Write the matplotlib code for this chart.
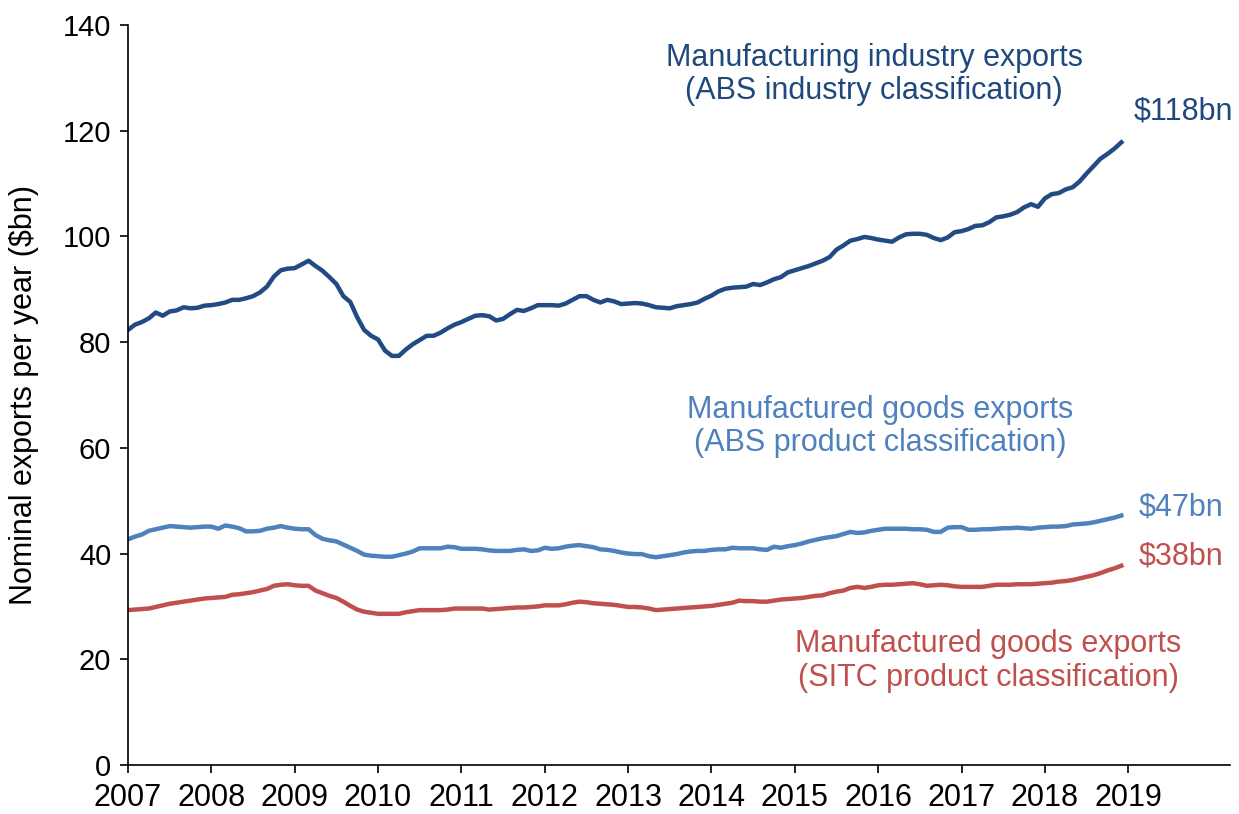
import numpy as np
import matplotlib
matplotlib.use("Agg")
import matplotlib.pyplot as plt

plt.rcParams['font.family'] = ['Liberation Sans', 'DejaVu Sans']

# monthly, Jan 2007 - Dec 2018 ($bn, nominal, annualised)
industry = [
    82.3, 83.3, 83.8, 84.5, 85.6, 85.0, 85.8, 86.0, 86.6, 86.4, 86.5, 86.9,
    87.0, 87.2, 87.5, 88.0, 88.0, 88.3, 88.7, 89.4, 90.5, 92.4, 93.6, 93.9,
    94.0, 94.7, 95.4, 94.4, 93.5, 92.3, 91.0, 88.7, 87.6, 84.7, 82.3, 81.2,
    80.5, 78.4, 77.4, 77.4, 78.6, 79.6, 80.4, 81.2, 81.2, 81.8, 82.6, 83.3,
    83.8, 84.4, 85.0, 85.1, 84.9, 84.1, 84.4, 85.3, 86.1, 85.9, 86.4, 87.0,
    87.0, 87.0, 86.9, 87.3, 88.0, 88.7, 88.7, 88.0, 87.5, 88.0, 87.7, 87.2,
    87.3, 87.4, 87.3, 87.0, 86.6, 86.5, 86.4, 86.8, 87.0, 87.2, 87.5, 88.2,
    88.8, 89.6, 90.1, 90.3, 90.4, 90.5, 91.0, 90.8, 91.3, 91.9, 92.3, 93.2,
    93.6, 94.0, 94.4, 94.9, 95.4, 96.1, 97.5, 98.3, 99.2, 99.5, 99.9, 99.7,
    99.4, 99.2, 99.0, 99.8, 100.4, 100.5, 100.5, 100.3, 99.7, 99.3, 99.8, 100.8,
    101.0, 101.4, 102.0, 102.1, 102.7, 103.6, 103.8, 104.1, 104.6, 105.5, 106.1, 105.6,
    107.2, 108.0, 108.2, 108.9, 109.3, 110.4, 111.9, 113.3, 114.7, 115.6, 116.6, 117.8,
]
abs_goods = [
    42.7, 43.2, 43.6, 44.3, 44.6, 44.9, 45.2, 45.1, 45.0, 44.9, 45.0, 45.1,
    45.1, 44.7, 45.3, 45.1, 44.8, 44.2, 44.2, 44.3, 44.7, 44.9, 45.2, 44.9,
    44.7, 44.6, 44.6, 43.5, 42.8, 42.5, 42.3, 41.7, 41.1, 40.5, 39.8, 39.6,
    39.5, 39.4, 39.4, 39.7, 40.0, 40.4, 41.0, 41.0, 41.0, 41.0, 41.3, 41.2,
    40.9, 40.9, 40.9, 40.8, 40.6, 40.5, 40.5, 40.5, 40.7, 40.8, 40.5, 40.6,
    41.1, 40.9, 41.0, 41.3, 41.5, 41.6, 41.4, 41.2, 40.8, 40.7, 40.5, 40.2,
    40.0, 39.9, 39.9, 39.5, 39.3, 39.5, 39.7, 39.9, 40.2, 40.4, 40.5, 40.5,
    40.7, 40.8, 40.8, 41.1, 41.0, 41.0, 41.0, 40.8, 40.7, 41.3, 41.1, 41.4,
    41.6, 41.9, 42.3, 42.6, 42.9, 43.1, 43.3, 43.7, 44.1, 43.9, 44.0, 44.3,
    44.5, 44.7, 44.7, 44.7, 44.7, 44.6, 44.6, 44.5, 44.1, 44.1, 44.9, 45.0,
    45.0, 44.5, 44.5, 44.6, 44.6, 44.7, 44.8, 44.8, 44.9, 44.8, 44.7, 44.9,
    45.0, 45.1, 45.1, 45.2, 45.5, 45.6, 45.7, 45.9, 46.2, 46.5, 46.8, 47.2,
]
sitc_goods = [
    29.3, 29.4, 29.5, 29.6, 29.9, 30.2, 30.5, 30.7, 30.9, 31.1, 31.3, 31.5,
    31.6, 31.7, 31.8, 32.2, 32.3, 32.5, 32.7, 33.0, 33.3, 33.9, 34.1, 34.2,
    34.0, 33.9, 33.9, 33.0, 32.5, 32.0, 31.6, 30.9, 30.1, 29.4, 29.0, 28.8,
    28.6, 28.6, 28.6, 28.6, 28.9, 29.1, 29.3, 29.3, 29.3, 29.3, 29.4, 29.6,
    29.6, 29.6, 29.6, 29.6, 29.4, 29.5, 29.6, 29.7, 29.8, 29.8, 29.9, 30.0,
    30.2, 30.2, 30.2, 30.4, 30.7, 30.9, 30.8, 30.6, 30.5, 30.4, 30.3, 30.1,
    29.9, 29.9, 29.8, 29.6, 29.3, 29.4, 29.5, 29.6, 29.7, 29.8, 29.9, 30.0,
    30.1, 30.3, 30.5, 30.7, 31.1, 31.0, 31.0, 30.9, 30.9, 31.1, 31.3, 31.4,
    31.5, 31.6, 31.8, 32.0, 32.1, 32.5, 32.8, 33.0, 33.5, 33.7, 33.5, 33.7,
    34.0, 34.1, 34.1, 34.2, 34.3, 34.4, 34.2, 33.9, 34.0, 34.1, 34.0, 33.8,
    33.7, 33.7, 33.7, 33.7, 33.9, 34.1, 34.1, 34.1, 34.2, 34.2, 34.2, 34.3,
    34.4, 34.5, 34.7, 34.8, 35.0, 35.3, 35.6, 35.9, 36.3, 36.8, 37.2, 37.7,
]
years = list(range(2007, 2020))
end_labels = ['$118bn', '$47bn', '$38bn']

dark = '#224B84'
light = '#4F81BD'
red = '#C0504D'

t = 2007 + np.arange(len(industry)) / 12

fig = plt.figure(figsize=(12.39, 8.14), dpi=100)
ax = fig.add_axes([0.1033, 0.0602, 0.8894, 0.9091])

ax.plot(t, industry, color=dark, lw=3.2)
ax.plot(t, abs_goods, color=light, lw=3.2)
ax.plot(t, sitc_goods, color=red, lw=3.2)

ax.set_xlim(2007, 2020.22)
ax.set_ylim(0, 140)
ax.set_xticks(years)
ax.set_yticks(range(0, 141, 20))
ax.tick_params(axis='both', length=6, width=1.2, direction='out')
ax.tick_params(axis='x', labelsize=22, pad=7)
ax.tick_params(axis='y', labelsize=21, pad=6)
ax.set_ylabel('Nominal exports per year ($bn)', fontsize=22)
ax.yaxis.set_label_coords(-0.081, 0.5)
for s in ['top', 'right']:
    ax.spines[s].set_visible(False)
for s in ['left', 'bottom']:
    ax.spines[s].set_linewidth(1.2)

fs = 22
ax.text(2015.95, 130.6, 'Manufacturing industry exports\n(ABS industry classification)',
        color='#1F497D', fontsize=fs, ha='center', va='center', linespacing=1.15)
ax.text(2016.02, 64.0, 'Manufactured goods exports\n(ABS product classification)',
        color=light, fontsize=fs, ha='center', va='center', linespacing=1.15)
ax.text(2017.32, 19.7, 'Manufactured goods exports\n(SITC product classification)',
        color=red, fontsize=fs, ha='center', va='center', linespacing=1.15)

ax.text(2019.06, 123.6, end_labels[0], color='#1F497D', fontsize=fs, va='center')
ax.text(2019.12, 48.8, end_labels[1], color=light, fontsize=fs, va='center')
ax.text(2019.12, 39.4, end_labels[2], color=red, fontsize=fs, va='center')

fig.savefig('out.png', dpi=100)
